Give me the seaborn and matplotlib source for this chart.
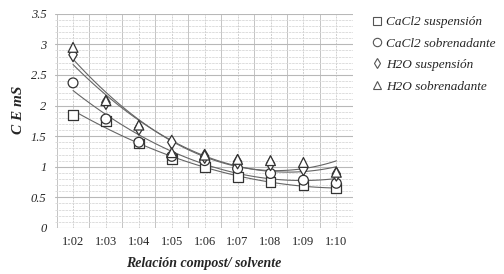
import numpy as np
import pandas as pd
import matplotlib
matplotlib.use("Agg")
import matplotlib.pyplot as plt
from matplotlib.ticker import MultipleLocator
import seaborn as sns

RATIOS = ["1:02", "1:03", "1:04", "1:05", "1:06", "1:07", "1:08", "1:09", "1:10"]
SERIES = ["CaCl2 suspensión", "CaCl2 sobrenadante", "H2O suspensión", "H2O sobrenadante"]

CACL2_SUSP = [1.85, 1.75, 1.38, 1.13, 0.99, 0.83, 0.75, 0.70, 0.65]
CACL2_SOBR = [2.37, 1.78, 1.40, 1.17, 1.10, 0.97, 0.89, 0.78, 0.73]
H2O_SUSP = [2.83, 2.05, 1.63, 1.40, 1.17, 1.08, 1.05, 0.97, 0.88]
H2O_SOBR = [2.95, 2.08, 1.68, 1.23, 1.19, 1.12, 1.10, 1.07, 0.91]

Y_TICKS = [0, 0.5, 1, 1.5, 2, 2.5, 3, 3.5]
Y_LABELS = ["0", "0.5", "1", "1.5", "2", "2.5", "3", "3.5"]

MARKERS = ["s", "o", "d", "^"]


def main() -> None:
    values = [CACL2_SUSP, CACL2_SOBR, H2O_SUSP, H2O_SOBR]
    df = pd.DataFrame({
        "x": np.tile(np.arange(len(RATIOS)), len(SERIES)),
        "ce": np.concatenate(values),
        "serie": np.repeat(SERIES, len(RATIOS)),
    })

    sns.set_style("white")
    plt.rcParams["font.family"] = ["Liberation Serif", "DejaVu Serif"]

    fig, ax = plt.subplots(figsize=(5.04, 2.74), dpi=100)
    fig.subplots_adjust(left=0.109, right=0.700, bottom=0.168, top=0.950)

    # quadratic trend lines, one per series
    for name in SERIES:
        sub = df[df["serie"] == name]
        sns.regplot(data=sub, x="x", y="ce", order=2, ci=None, scatter=False,
                    line_kws={"color": "#666666", "lw": 0.8}, ax=ax)

    sns.scatterplot(data=df, x="x", y="ce", style="serie", style_order=SERIES,
                    markers=dict(zip(SERIES, MARKERS)), s=50,
                    facecolor="white", edgecolor="#333333", linewidth=0.9,
                    color="white", legend=False, ax=ax, zorder=3)

    ax.set_xticks(range(len(RATIOS)))
    ax.set_xticklabels(RATIOS, fontsize=9)
    ax.set_yticks(Y_TICKS)
    ax.set_yticklabels(Y_LABELS, fontsize=9, style="italic")
    ax.xaxis.set_minor_locator(MultipleLocator(0.5))
    ax.yaxis.set_minor_locator(MultipleLocator(0.1))
    ax.set_xlim(-0.55, 8.5)
    ax.set_ylim(0, 3.5)
    ax.grid(which="major", axis="y", color="#b8b8b8", lw=0.8)
    ax.grid(which="major", axis="x", color="#d0d0d0", lw=0.7, ls=(0, (2, 1)))
    ax.grid(which="minor", axis="x", color="#c4c4c4", lw=0.7)
    ax.grid(which="minor", axis="y", color="#d8d8d8", lw=0.6, ls=(0, (3, 1)))
    ax.tick_params(which="both", length=0, pad=6)
    for sp in ax.spines.values():
        sp.set_visible(False)
    ax.set_axisbelow(True)

    ax.set_xlabel("Relación compost/ solvente", fontsize=10, style="italic",
                  weight="bold", labelpad=6)
    ax.set_ylabel("C E mS", fontsize=11, style="italic", weight="bold")
    ax.yaxis.set_label_coords(-0.1, 0.55)

    handles = [plt.Line2D([], [], marker=m, ls="", mfc="white", mec="#555555",
                          mew=0.8, ms=6 if m != "d" else 5) for m in MARKERS]
    ax.legend(handles, SERIES, loc="upper left", bbox_to_anchor=(1.02, 1.045),
              frameon=False, handletextpad=0.3, labelspacing=0.7,
              handlelength=0.9, prop={"style": "italic", "size": 9.5})

    fig.savefig("out.png", dpi=100)
    plt.close()


if __name__ == "__main__":
    main()
